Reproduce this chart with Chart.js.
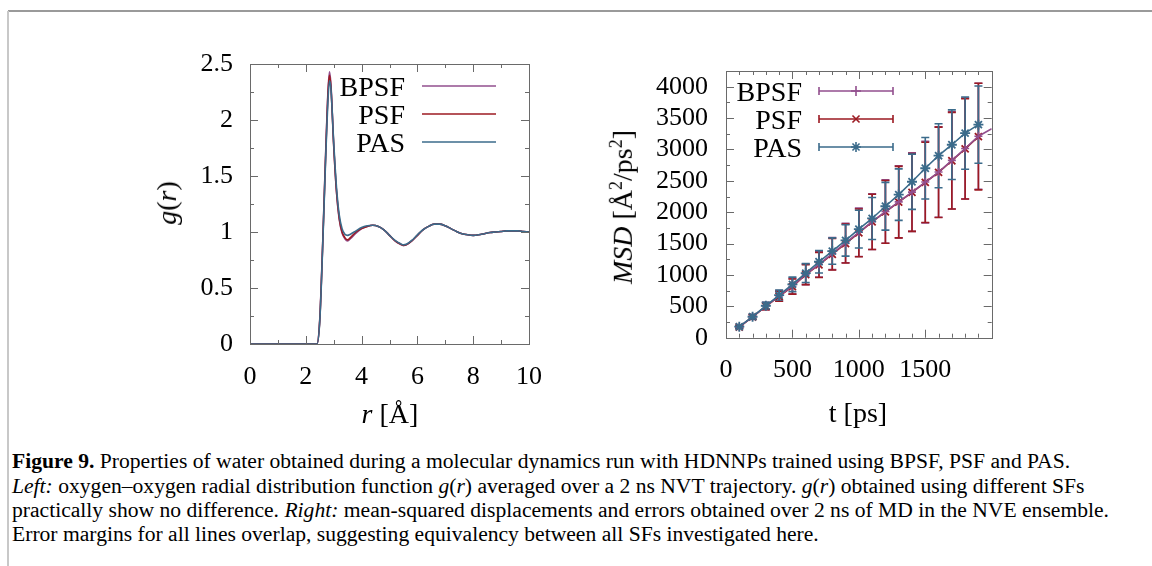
<!DOCTYPE html>
<html>
<head>
<meta charset="utf-8">
<script src="https://cdn.jsdelivr.net/npm/chart.js@4.4.1/dist/chart.umd.min.js"></script>
<style>
  html, body { margin: 0; padding: 0; background: #fff; }
  body { width: 1152px; height: 566px; position: relative; overflow: hidden; font-family: "Liberation Serif", serif; color: #000; }
  .borda-topo { position: absolute; left: 8px; top: 10px; width: 1144px; height: 2px; background: #9a9a9a; }
  .borda-esq { position: absolute; left: 7px; top: 11px; width: 2px; height: 555px; background: #c8c8c8; }
  .caixa { position: absolute; }
  .rotulo { position: absolute; transform: translate(-50%, -50%); white-space: nowrap; font-size: 28px; line-height: 1; }
  .girado { transform: translate(-50%, -50%) rotate(-90deg); }
  .legenda-fig { position: absolute; left: 12px; font-size: 21.6px; line-height: 1; white-space: nowrap; }
</style>
</head>
<body>
<div class="borda-topo"></div>
<div class="borda-esq"></div>

<canvas id="grChart" class="caixa" width="410" height="360" style="left:140px; top:40px;"></canvas>
<canvas id="msdChart" class="caixa" width="420" height="360" style="left:600px; top:40px;"></canvas>

<div class="rotulo girado" style="left:167px; top:203px;"><i>g</i>(<i>r</i>)</div>
<div class="rotulo" style="left:390px; top:414px;"><i>r</i> [Å]</div>
<div class="rotulo girado" style="left:622px; top:207px;"><i>MSD</i> [Å<sup style="font-size:18px">2</sup>/ps<sup style="font-size:18px">2</sup>]</div>
<div class="rotulo" style="left:858px; top:413px;">t [ps]</div>

<div class="legenda-fig" style="top:451px;"><b>Figure 9.</b> Properties of water obtained during a molecular dynamics run with HDNNPs trained using BPSF, PSF and PAS.</div>
<div class="legenda-fig" style="top:476px;"><i>Left:</i> oxygen–oxygen radial distribution function <i>g</i>(<i>r</i>) averaged over a 2 ns NVT trajectory. <i>g</i>(<i>r</i>) obtained using different SFs</div>
<div class="legenda-fig" style="top:500px;">practically show no difference. <i>Right:</i> mean-squared displacements and errors obtained over 2 ns of MD in the NVE ensemble.</div>
<div class="legenda-fig" style="top:524px;">Error margins for all lines overlap, suggesting equivalency between all SFs investigated here.</div>

<script>
// ---- dados g(r) ----
var rValores = [0, 2.3, 2.4, 2.5, 2.6, 2.7, 2.8, 2.85, 2.9, 3.0, 3.1, 3.2, 3.3, 3.4, 3.5, 3.6, 3.8, 4.0, 4.2, 4.4, 4.6, 4.8, 5.0, 5.2, 5.4, 5.5, 5.6, 5.8, 6.0, 6.2, 6.4, 6.6, 6.8, 7.0, 7.2, 7.4, 7.6, 7.8, 8.0, 8.2, 8.4, 8.6, 8.8, 9.0, 9.2, 9.4, 9.6, 9.8, 10];
var gBPSF = [0, 0, 0, 0.22, 0.86, 1.62, 2.28, 2.43, 2.32, 1.78, 1.36, 1.11, 0.99, 0.94, 0.92, 0.94, 0.99, 1.03, 1.05, 1.06, 1.05, 1.02, 0.97, 0.92, 0.89, 0.88, 0.885, 0.92, 0.97, 1.02, 1.05, 1.07, 1.07, 1.055, 1.03, 1.005, 0.985, 0.975, 0.97, 0.975, 0.985, 0.995, 1.0, 1.005, 1.01, 1.01, 1.01, 1.005, 1.0];
var gPSF = [0, 0, 0, 0.21, 0.85, 1.6, 2.26, 2.4, 2.3, 1.77, 1.36, 1.12, 1.0, 0.95, 0.93, 0.95, 1.0, 1.03, 1.05, 1.06, 1.05, 1.02, 0.97, 0.92, 0.89, 0.88, 0.885, 0.92, 0.97, 1.02, 1.05, 1.07, 1.07, 1.055, 1.03, 1.005, 0.985, 0.975, 0.97, 0.975, 0.985, 0.995, 1.0, 1.005, 1.01, 1.01, 1.01, 1.005, 1.0];
var gPAS = [0, 0, 0, 0.2, 0.83, 1.57, 2.2, 2.35, 2.28, 1.8, 1.4, 1.15, 1.03, 0.98, 0.97, 0.98, 1.01, 1.04, 1.055, 1.06, 1.05, 1.02, 0.97, 0.925, 0.895, 0.885, 0.89, 0.925, 0.975, 1.02, 1.05, 1.07, 1.07, 1.055, 1.03, 1.005, 0.985, 0.975, 0.97, 0.975, 0.985, 0.995, 1.0, 1.005, 1.01, 1.01, 1.01, 1.005, 1.0];

var grXTicks = [0, 2, 4, 6, 8, 10];
var grXMenores = [1, 3, 5, 7, 9];
var grYTicks = [0, 0.5, 1, 1.5, 2, 2.5];
var grYMenores = [0.25, 0.75, 1.25, 1.75, 2.25];

// ---- dados MSD ----
var tValores = [100, 200, 300, 400, 500, 600, 700, 800, 900, 1000, 1100, 1200, 1300, 1400, 1500, 1600, 1700, 1800, 1900, 2000];
var msdBPSF = [172, 332, 505, 665, 820, 1010, 1170, 1340, 1510, 1680, 1850, 2010, 2165, 2320, 2480, 2640, 2825, 3015, 3210, 3330];
var errBPSF = [20, 35, 60, 85, 125, 165, 205, 255, 315, 385, 445, 505, 575, 625, 650, 720, 775, 805, 845];
var msdPSF = [170, 330, 500, 660, 815, 1005, 1160, 1330, 1500, 1670, 1845, 2005, 2160, 2315, 2475, 2635, 2820, 3010, 3205];
var errPSF = [20, 35, 55, 80, 120, 160, 200, 250, 310, 380, 440, 500, 570, 620, 640, 720, 770, 800, 850];
var msdPAS = [175, 334, 509, 680, 850, 1030, 1210, 1380, 1550, 1730, 1900, 2095, 2280, 2485, 2700, 2900, 3075, 3260, 3395];
var errPAS = [20, 35, 55, 80, 115, 150, 180, 210, 250, 300, 335, 380, 410, 440, 490, 510, 555, 575, 615];

var msdXTicks = [0, 500, 1000, 1500];
var msdXMenores = [100, 200, 300, 400, 600, 700, 800, 900, 1100, 1200, 1300, 1400, 1600, 1700, 1800, 1900];
var msdYTicks = [0, 500, 1000, 1500, 2000, 2500, 3000, 3500, 4000];
var msdYMenores = [250, 750, 1250, 1750, 2250, 2750, 3250, 3750];

var corBPSF = "#924f8e";
var corPSF = "#9c1a22";
var corPAS = "#3b6b8b";
var fonte = '"Liberation Serif", serif';

function pares(xs, ys) {
  var out = [];
  for (var i = 0; i < ys.length; i++) out.push({ x: xs[i], y: ys[i] });
  return out;
}

// moldura estilo gnuplot: borda + ticks para dentro nos 4 lados
var moldura = {
  id: "moldura",
  afterDatasetsDraw: function (chart, args, o) {
    var ctx = chart.ctx;
    var a = chart.chartArea;
    var sx = chart.scales.x;
    var sy = chart.scales.y;
    ctx.save();
    ctx.strokeStyle = "#6a6a6a";
    ctx.lineWidth = 1;
    function tx(v, len) {
      var p = Math.round(sx.getPixelForValue(v)) + 0.5;
      ctx.beginPath();
      ctx.moveTo(p, a.bottom);
      ctx.lineTo(p, a.bottom - len);
      ctx.moveTo(p, a.top);
      ctx.lineTo(p, a.top + len);
      ctx.stroke();
    }
    function ty(v, len) {
      var p = Math.round(sy.getPixelForValue(v)) + 0.5;
      ctx.beginPath();
      ctx.moveTo(a.left, p);
      ctx.lineTo(a.left + len, p);
      ctx.moveTo(a.right, p);
      ctx.lineTo(a.right - len, p);
      ctx.stroke();
    }
    o.xMaiores.forEach(function (v) { tx(v, 8); });
    o.xMenores.forEach(function (v) { tx(v, 4); });
    o.yMaiores.forEach(function (v) { ty(v, 8); });
    o.yMenores.forEach(function (v) { ty(v, 4); });
    ctx.strokeRect(Math.round(a.left) + 0.5, Math.round(a.top) + 0.5, Math.round(a.right - a.left), Math.round(a.bottom - a.top));
    ctx.restore();
  },
};

// barras de erro (desenhadas antes das linhas)
var barrasErro = {
  id: "barrasErro",
  beforeDatasetsDraw: function (chart) {
    var ctx = chart.ctx;
    var a = chart.chartArea;
    var sx = chart.scales.x;
    var sy = chart.scales.y;
    ctx.save();
    ctx.beginPath();
    ctx.rect(a.left, a.top, a.right - a.left, a.bottom - a.top);
    ctx.clip();
    chart.data.datasets.forEach(function (ds) {
      if (!ds.erros) return;
      ctx.strokeStyle = ds.borderColor;
      ctx.lineWidth = 1.6;
      for (var i = 0; i < ds.erros.length; i++) {
        var p = ds.data[i];
        var x = sx.getPixelForValue(p.x);
        var y1 = sy.getPixelForValue(p.y + ds.erros[i]);
        var y2 = sy.getPixelForValue(p.y - ds.erros[i]);
        ctx.beginPath();
        ctx.moveTo(x, y1);
        ctx.lineTo(x, y2);
        ctx.moveTo(x - 4, y1);
        ctx.lineTo(x + 4, y1);
        ctx.moveTo(x - 4, y2);
        ctx.lineTo(x + 4, y2);
        ctx.stroke();
      }
    });
    ctx.restore();
  },
};

// legenda: texto à esquerda, amostra à direita
var legenda = {
  id: "legenda",
  afterDraw: function (chart, args, o) {
    var ctx = chart.ctx;
    ctx.save();
    ctx.font = "28px " + fonte;
    ctx.textAlign = "right";
    ctx.textBaseline = "middle";
    chart.data.datasets.forEach(function (ds, i) {
      var y = o.y0 + i * o.dy;
      ctx.fillStyle = "#000";
      ctx.fillText(ds.label, o.textoDir, y + 3);
      ctx.strokeStyle = ds.borderColor;
      ctx.fillStyle = ds.borderColor;
      ctx.lineWidth = o.espessura;
      ctx.beginPath();
      ctx.moveTo(o.x1, y);
      ctx.lineTo(o.x2, y);
      if (o.tampas) {
        ctx.moveTo(o.x1, y - 4);
        ctx.lineTo(o.x1, y + 4);
        ctx.moveTo(o.x2, y - 4);
        ctx.lineTo(o.x2, y + 4);
      }
      ctx.stroke();
      if (o.marcador) {
        Chart.helpers.drawPoint(ctx, { pointStyle: ds.pointStyle, radius: 5, borderWidth: 1.6, rotation: 0 }, (o.x1 + o.x2) / 2, y);
      }
    });
    ctx.restore();
  },
};

function eixo(min, max, ticks, largura, altura, pad) {
  return {
    type: "linear",
    min: min,
    max: max,
    afterBuildTicks: function (s) {
      s.ticks = ticks.map(function (v) { return { value: v }; });
    },
    afterFit: function (s) {
      if (largura) s.width = largura;
      if (altura) s.height = altura;
      // sem folga extra para rótulos nas pontas: a área do gráfico fica fixa
      s.paddingLeft = 0;
      s.paddingRight = 0;
      s.paddingTop = 0;
      s.paddingBottom = 0;
    },
    grid: { display: false, drawTicks: false },
    border: { display: false },
    ticks: {
      color: "#000",
      padding: pad,
      autoSkip: false,
      maxRotation: 0,
      font: { family: fonte, size: 26 },
      callback: function (v) { return String(v); },
    },
  };
}

// ---- g(r) ----
new Chart(document.getElementById("grChart"), {
  type: "line",
  data: {
    datasets: [
      { label: "BPSF", data: pares(rValores, gBPSF), borderColor: corBPSF, borderWidth: 1.6, pointRadius: 0, cubicInterpolationMode: "monotone", order: 3 },
      { label: "PSF", data: pares(rValores, gPSF), borderColor: corPSF, borderWidth: 1.6, pointRadius: 0, cubicInterpolationMode: "monotone", order: 2 },
      { label: "PAS", data: pares(rValores, gPAS), borderColor: corPAS, borderWidth: 1.6, pointRadius: 0, cubicInterpolationMode: "monotone", order: 1 },
    ],
  },
  options: {
    responsive: false,
    animation: false,
    layout: { padding: { left: 0, top: 24, right: 21, bottom: 0 } },
    scales: {
      x: eixo(0, 10, grXTicks, null, 56, 18),
      y: eixo(0, 2.5, grYTicks, 110, null, 17),
    },
    plugins: {
      legend: { display: false },
      tooltip: { enabled: false },
      moldura: { xMaiores: grXTicks, xMenores: grXMenores, yMaiores: grYTicks, yMenores: grYMenores },
      legenda: { textoDir: 265, x1: 282, x2: 356, y0: 46, dy: 28, espessura: 1.6, tampas: false, marcador: false },
    },
  },
  plugins: [moldura, legenda],
});

// ---- MSD ----
function raioBPSF(c) {
  return c.raw && c.raw.x >= 2000 ? 0 : 4;
}

new Chart(document.getElementById("msdChart"), {
  type: "line",
  data: {
    datasets: [
      { label: "BPSF", data: pares(tValores, msdBPSF), erros: errBPSF, borderColor: corBPSF, backgroundColor: corBPSF, borderWidth: 1.6, pointStyle: "cross", pointRadius: raioBPSF, pointBorderWidth: 1.6, order: 2 },
      { label: "PSF", data: pares(tValores, msdPSF), erros: errPSF, borderColor: corPSF, backgroundColor: corPSF, borderWidth: 1.6, pointStyle: "crossRot", pointRadius: 5, pointBorderWidth: 1.8, order: 3 },
      { label: "PAS", data: pares(tValores, msdPAS), erros: errPAS, borderColor: corPAS, backgroundColor: corPAS, borderWidth: 1.6, pointStyle: "star", pointRadius: 5, pointBorderWidth: 1.8, order: 1 },
    ],
  },
  options: {
    responsive: false,
    animation: false,
    layout: { padding: { left: 0, top: 31, right: 28.3, bottom: 0 } },
    scales: {
      x: eixo(0, 2000, msdXTicks, null, 62.3, 17),
      y: eixo(0, 4250, msdYTicks, 126, null, 18),
    },
    plugins: {
      legend: { display: false },
      tooltip: { enabled: false },
      moldura: { xMaiores: msdXTicks.concat([2000]), xMenores: msdXMenores, yMaiores: msdYTicks, yMenores: msdYMenores },
      legenda: { textoDir: 202, x1: 219, x2: 293, y0: 51, dy: 28, espessura: 1.6, tampas: true, marcador: true },
    },
  },
  plugins: [barrasErro, moldura, legenda],
});
</script>
</body>
</html>
